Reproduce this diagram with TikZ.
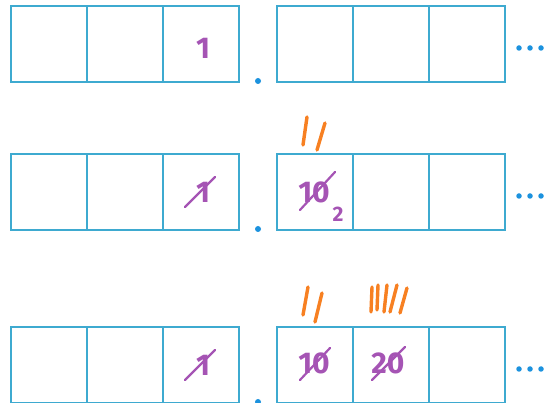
\documentclass[tikz,border=0pt]{standalone}
\usepackage{fontspec}
\newfontfamily\digitfont{Fira Sans}
\usetikzlibrary{positioning}
\definecolor{boxblue}{RGB}{62,170,208}
\definecolor{dotblue}{RGB}{28,146,222}
\definecolor{digitpurple}{RGB}{165,84,180}
\definecolor{tallyorange}{RGB}{247,128,34}
\tikzset{
  cell/.style={draw=boxblue,line width=1.4pt,minimum width=76pt,minimum height=76pt,inner sep=0pt,outer sep=0pt},
  digit/.style={text=digitpurple,font=\digitfont\bfseries\fontsize{30}{30}\selectfont,inner sep=0pt},
  subdigit/.style={text=digitpurple,font=\digitfont\bfseries\fontsize{21}{21}\selectfont,inner sep=0pt},
  cross/.style={draw=digitpurple,line width=2.2pt,line cap=round},
  tally/.style={draw=tallyorange,line width=3.4pt,line cap=round},
  pt/.style={circle,fill=dotblue,inner sep=0pt,minimum size=5.5pt}
}
\begin{document}
\begin{tikzpicture}[x=1pt,y=-1pt]
\useasboundingbox (0,0) rectangle (544,403);
% three rows of place-value cells
\foreach \r/\y in {1/44,2/192,3/365}{
  \node[cell] (r\r a) at (49,\y) {};\node[cell,right=0pt of r\r a] (r\r b) {};\node[cell,right=0pt of r\r b] (r\r c) {};
  \node[cell,right=38pt of r\r c] (r\r d) {};\node[cell,right=0pt of r\r d] (r\r e) {};\node[cell,right=0pt of r\r e] (r\r f) {};
  \node[pt,minimum size=6pt] (r\r p) at (258,\y+37) {};
  \foreach \k in {0,1,2}{\node[pt] (r\r x\k) at (519+11*\k,\y+4) {};}
}
% row 1
\node[digit] (r1one) at (203,48) {1};
% row 2
\node[digit] (r2one) at (203,192) {1};\draw[cross] (185,207)--(215,177);
\node[digit] (r2ten) at (314,192) {10};\draw[cross] (300,210)--(335,172);
\node[subdigit] (r2two) at (338,214) {2};
\draw[tally] (303,145)--(307,117) (317,150)--(325,123);
% row 3
\node[digit] (r3one) at (203,365) {1};\draw[cross] (185,380)--(215,350);
\node[digit] (r3ten) at (314,363) {10};\draw[cross] (300,380)--(330,348);
\node[digit] (r3twenty) at (388,363) {20};\draw[cross] (372,380)--(405,347);
\draw[tally] (303,315)--(308,287) (315,322)--(322,293);
\draw[tally] (371,312)--(372,287) (377,310)--(378,285) (384,312)--(387,285) (390,312)--(397,285) (400,313)--(407,288);
\end{tikzpicture}
\end{document}
